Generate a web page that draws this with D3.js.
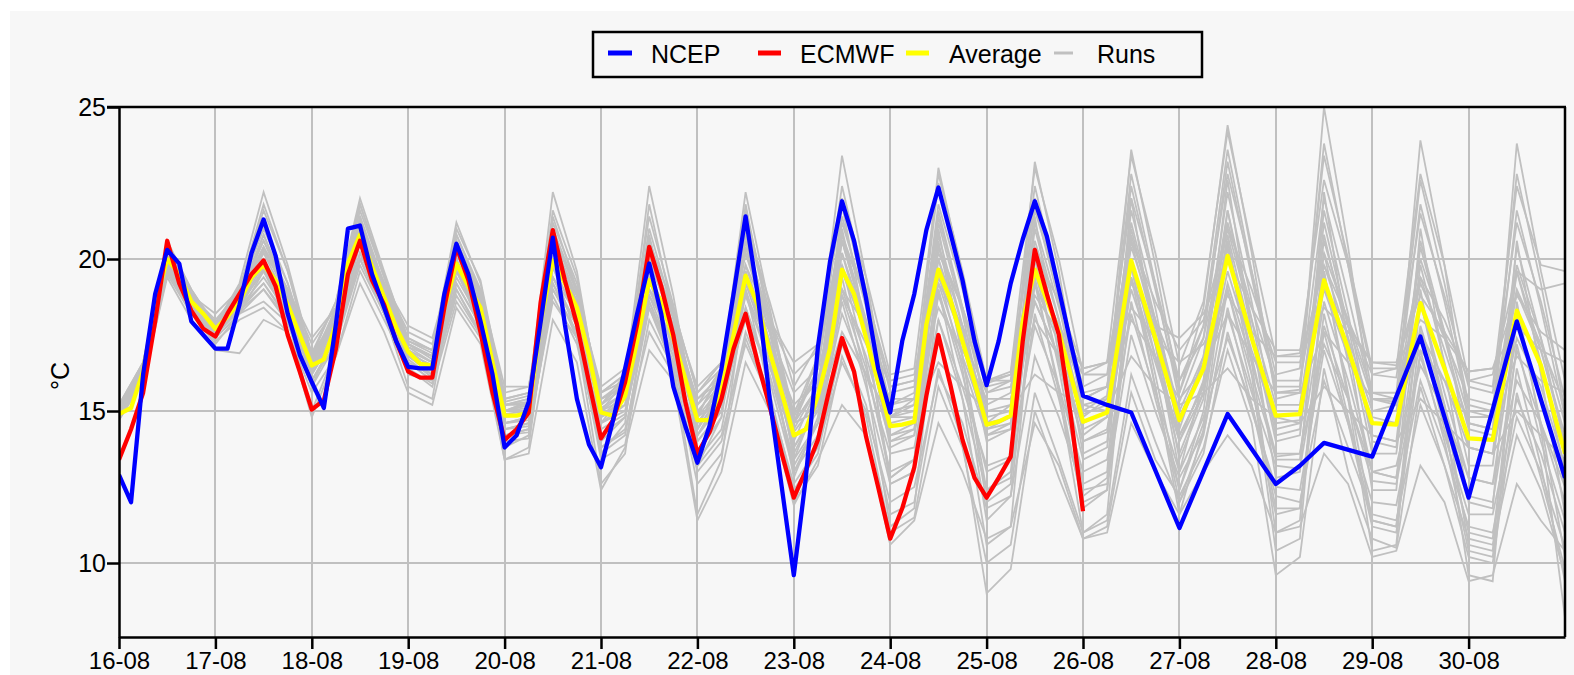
<!DOCTYPE html>
<html><head><meta charset="utf-8">
<script src="https://cdn.jsdelivr.net/npm/d3@7"></script>
<style>
html,body{margin:0;padding:0;background:#fff;}
svg{display:block;}
text{font-family:"Liberation Sans",Arial,sans-serif;fill:#000;}
</style></head><body>
<svg id="chart" width="1574" height="675"></svg>
<script>
// ---- data ----
const dayLabels = ["16-08","17-08","18-08","19-08","20-08","21-08","22-08","23-08","24-08","25-08","26-08","27-08","28-08","29-08","30-08"];
const dayHours = [0,24,48,72,96,120,144,168,192,216,240,264,288,312,336];
const yTicks = [10,15,20,25];
const seriesNames = ["NCEP","ECMWF","Average","Runs"];

const ncepHours = [0,3,6,9,12,15,18,21,24,27,30,33,36,39,42,45,48,51,54,57,60,63,66,69,72,75,78,81,84,87,90,93,96,99,102,105,108,111,114,117,120,123,126,129,132,135,138,141,144,147,150,153,156,159,162,165,168,171,174,177,180,183,186,189,192,195,198,201,204,207,210,213,216,219,222,225,228,231,234,237,240,246,252,264,276,288,294,300,312,324,336,348,360];
const ncepTemp = [12.9,12.0,16.2,18.85,20.3,19.85,17.95,17.5,17.05,17.05,18.5,20.2,21.3,20.1,18.2,16.85,15.95,15.1,17.85,21.0,21.1,19.5,18.4,17.3,16.45,16.4,16.4,18.85,20.5,19.5,17.95,16.2,13.8,14.2,15.3,17.95,20.7,17.85,15.4,13.9,13.15,14.7,16.4,18.2,19.85,18.2,15.8,14.5,13.3,14.5,16.4,18.85,21.4,18.85,15.4,12.5,9.6,12.8,17.1,19.9,21.9,20.6,18.7,16.4,14.95,17.3,18.85,20.95,22.35,20.85,19.3,17.3,15.85,17.3,19.2,20.65,21.9,20.75,19.0,17.2,15.5,15.2,14.95,11.15,14.9,12.6,13.2,13.95,13.5,17.45,12.15,17.95,12.8];

const ecmwfHours = [0,3,6,9,12,15,18,21,24,27,30,33,36,39,42,45,48,51,54,57,60,63,66,69,72,75,78,81,84,87,90,93,96,99,102,105,108,111,114,117,120,123,126,129,132,135,138,141,144,147,150,153,156,159,162,165,168,171,174,177,180,183,186,189,192,195,198,201,204,207,210,213,216,219,222,225,228,231,234,237,240];
const ecmwfTemp = [13.4,14.4,15.6,17.95,20.6,19.2,18.3,17.7,17.45,18.2,18.85,19.5,19.95,19.1,17.5,16.3,15.05,15.35,17.05,19.5,20.6,19.3,18.5,17.3,16.3,16.1,16.1,18.4,20.4,19.3,17.6,15.6,14.05,14.4,14.95,18.6,20.95,19.3,17.85,15.95,14.1,14.7,15.95,17.85,20.4,19.1,17.5,15.3,13.6,14.3,15.4,17.05,18.2,16.6,15.15,13.6,12.15,13.05,14.05,15.8,17.4,16.3,14.15,12.5,10.8,11.8,13.15,15.5,17.5,15.85,14.05,12.8,12.15,12.8,13.5,17.3,20.3,18.85,17.5,14.8,11.7];

const avgHours = [0,3,6,9,12,15,18,21,24,27,30,33,36,39,42,45,48,51,54,57,60,63,66,69,72,75,78,81,84,87,90,93,96,99,102,105,108,111,114,117,120,123,126,129,132,135,138,141,144,147,150,153,156,159,162,165,168,171,174,177,180,183,186,189,192,195,198,201,204,207,210,213,216,219,222,225,228,231,234,237,240,246,252,258,264,270,276,282,288,294,300,306,312,318,324,330,336,342,348,354,360];
const avgTemp = [14.9,15.1,16.3,18.5,20.0,19.5,18.6,18.2,17.7,18.1,18.6,19.4,19.8,19.3,18.5,17.5,16.5,16.7,17.85,19.85,20.8,19.75,18.75,17.75,16.95,16.55,16.5,18.4,19.85,19.1,18.4,16.6,14.85,14.85,14.95,17.95,19.95,19.2,18.4,16.85,14.95,14.85,15.5,17.3,19.3,18.6,17.4,16.05,14.7,14.7,15.7,17.5,19.45,18.5,16.95,15.6,14.2,14.4,15.5,17.05,19.65,18.85,17.4,15.95,14.5,14.55,14.65,17.85,19.65,18.65,17.3,15.95,14.55,14.65,14.85,17.95,19.65,18.65,17.6,16.15,14.65,14.95,19.95,17.4,14.7,16.4,20.1,17.4,14.85,14.9,19.3,17.05,14.6,14.55,18.55,16.4,14.1,14.05,18.3,16.5,13.6];

// ensemble runs, 6-hourly from 16-08 00 to 31-08 00
const runHours = d3.range(0, 361, 6);
const runs = [
[15.1,16.6,20.4,18.9, 17.9,19.0,21.6,19.6, 16.9,18.6,21.8,19.5, 17.4,17.0,21.0,19.3, 15.4,15.6,21.6,19.4, 15.2,16.2,21.4,18.5, 14.8,16.4,21.6,18.2, 14.9,16.8,22.4,19.0, 15.6,15.8,22.5,19.2, 15.9,16.2,22.0,18.9, 15.4,15.8,21.2,18.0, 14.2,15.8,19.0,16.2, 13.5,13.6,17.2,15.4, 13.0,13.2,16.5,15.0, 12.8,12.6,16.0,14.6, 12.5],
[14.8,16.1,19.6,18.3, 17.4,18.2,18.6,17.9, 16.0,17.2,19.8,18.2, 16.6,16.0,18.8,17.5, 14.2,14.4,18.6,17.4, 13.8,14.4,17.6,16.2, 13.2,14.2,17.2,15.4, 12.6,13.8,16.6,15.0, 12.0,12.5,16.2,14.6, 11.8,12.2,16.8,14.8, 12.4,12.6,17.5,15.0, 12.8,14.3,18.2,15.6, 13.2,13.1,17.8,15.4, 12.7,12.6,16.8,14.2, 11.6,11.6,15.4,13.6, 11.0],
[15.0,16.4,20.2,18.7, 17.8,18.8,20.3,18.9, 16.7,18.1,21.3,19.1, 17.2,16.8,20.4,18.7, 15.2,15.4,20.8,19.0, 15.6,16.2,20.6,18.4, 15.6,16.6,21.2,18.6, 15.8,17.2,22.0,19.4, 16.2,16.4,22.8,19.6, 16.0,16.3,23.0,20.0, 16.2,16.6,23.4,20.2, 16.5,18.6,24.2,20.4, 16.8,16.9,22.6,19.8, 16.2,16.1,21.5,18.8, 15.8,15.6,21.2,18.6, 15.4],
[14.9,16.2,19.9,18.5, 17.6,18.5,19.6,18.3, 16.3,17.7,20.5,18.6, 16.8,16.3,19.6,18.0, 14.6,14.8,19.7,18.2, 14.8,15.2,19.0,17.2, 14.6,15.6,19.2,16.9, 14.3,15.4,19.6,17.5, 14.8,15.0,20.0,17.6, 14.4,14.6,19.2,17.2, 14.0,14.3,19.4,16.8, 14.2,15.8,19.6,17.0, 14.6,14.7,19.8,17.4, 15.0,15.0,19.4,17.0, 14.6,14.4,18.9,17.0, 14.2],
[14.8,16.2,19.8,18.4, 17.5,18.3,19.2,18.1, 16.2,17.5,20.2,18.4, 16.7,16.1,19.2,17.8, 14.0,14.1,19.0,17.6, 13.4,13.9,18.0,16.4, 12.6,13.6,17.4,15.4, 12.0,13.2,16.8,14.8, 11.0,11.5,15.8,13.8, 10.0,10.6,15.6,13.4, 11.0,11.4,16.2,14.0, 12.0,13.6,17.6,15.0, 12.5,12.4,17.0,14.6, 12.0,11.9,16.0,13.8, 11.2,11.0,14.8,13.0, 10.5],
[15.0,16.5,20.4,18.8, 17.9,19.1,21.2,19.2, 16.6,18.3,21.6,19.4, 17.1,16.8,20.8,18.9, 15.0,15.3,21.2,19.2, 15.2,16.0,21.0,18.2, 14.9,16.2,21.4,18.0, 14.6,16.4,22.0,18.6, 14.8,15.2,21.6,18.4, 15.2,15.6,22.4,19.0, 15.0,15.5,22.8,19.2, 15.3,17.4,23.2,19.4, 15.6,15.7,22.0,18.8, 15.4,15.3,21.8,18.6, 15.0,14.8,21.6,18.4, 14.8],
[14.8,16.0,19.5,18.2, 17.3,18.0,18.4,17.6, 15.6,16.8,19.6,18.0, 16.4,15.8,18.6,17.4, 14.4,14.5,19.0,17.6, 14.4,14.9,18.4,16.6, 14.0,15.0,18.4,16.2, 13.4,14.6,18.2,16.2, 13.6,13.8,18.0,15.8, 13.2,13.5,17.8,15.8, 13.0,13.4,18.2,15.6, 13.0,14.8,17.4,15.2, 12.2,12.0,16.0,13.8, 11.6,11.4,15.2,13.2, 10.8,10.6,14.2,12.4, 9.6],
[15.2,16.6,20.2,18.8, 18.0,18.9,20.4,19.0, 17.2,18.4,21.0,19.2, 17.6,17.2,20.4,18.8, 15.6,15.8,20.4,18.8, 15.8,16.4,19.8,18.2, 15.8,16.6,20.2,18.0, 16.2,17.0,20.8,18.6, 15.8,16.0,20.4,18.4, 16.0,16.2,20.2,18.6, 16.4,16.6,20.6,18.6, 17.0,18.0,21.0,19.0, 16.6,16.6,19.8,18.0, 16.2,16.4,19.4,18.0, 16.0,16.2,19.6,19.0, 19.2],
[15.0,16.4,20.6,19.0, 17.8,19.2,22.2,19.8, 16.8,18.6,22.0,19.6, 17.3,17.0,21.2,19.2, 15.3,15.5,22.2,19.6, 15.0,16.0,22.4,18.8, 14.4,16.2,22.2,18.4, 14.6,16.8,23.4,19.4, 14.8,15.4,23.0,19.4, 14.6,15.2,23.2,19.6, 14.8,15.4,23.6,19.8, 15.6,18.4,24.4,20.2, 15.4,15.6,25.0,20.4, 15.0,15.2,23.9,19.8, 14.6,14.4,23.8,19.6, 16.0],
[14.7,16.0,19.8,18.2, 17.2,18.2,19.6,18.0, 15.0,17.0,20.6,18.2, 15.8,15.4,19.8,17.6, 13.4,13.8,19.8,17.4, 12.6,13.6,19.4,16.4, 11.6,13.4,19.0,15.6, 12.0,14.0,19.4,16.0, 11.2,11.8,19.0,15.4, 10.6,11.2,19.4,15.6, 11.0,11.6,19.8,15.8, 11.6,14.4,20.4,16.2, 10.4,10.8,19.6,15.4, 10.4,10.6,19.0,14.8, 9.6,9.4,18.6,14.4, 8.2],
[14.9,16.3,20.1,18.6, 17.8,18.7,20.0,18.6, 16.6,18.0,20.9,18.9, 17.1,16.6,20.0,18.4, 15.0,15.1,20.3,18.6, 15.1,15.6,19.6,17.6, 15.0,15.9,19.8,17.3, 14.4,15.8,20.2,17.8, 14.6,14.8,20.4,17.8, 14.8,15.0,20.6,18.0, 14.9,15.2,20.8,18.0, 15.0,16.8,21.0,18.0, 15.2,15.2,20.6,17.8, 15.4,15.4,20.0,17.6, 14.8,14.8,19.8,17.4, 14.6],
[14.9,16.2,19.8,18.5, 17.6,18.4,19.4,18.2, 16.4,17.6,20.2,18.4, 16.8,16.4,19.4,18.0, 15.0,15.0,19.2,17.8, 15.0,15.4,18.4,17.0, 14.8,15.4,18.0,16.4, 14.6,15.0,17.6,16.2, 14.8,14.8,16.6,15.8, 15.0,15.0,16.2,15.6, 15.2,15.0,16.8,15.8, 15.2,15.6,16.4,15.4, 14.8,14.6,15.8,15.0, 14.2,14.0,15.4,14.6, 13.8,13.6,15.0,14.2, 13.4],
[14.8,16.1,19.7,18.3, 17.4,18.2,19.0,17.9, 15.8,17.2,20.0,18.2, 16.4,15.9,19.0,17.5, 14.2,14.3,18.8,17.2, 13.8,14.3,18.4,16.4, 13.0,14.0,17.6,15.6, 12.4,13.6,17.2,15.2, 11.6,12.0,16.4,14.0, 9.0,9.8,15.0,12.8, 10.8,11.2,15.6,13.4, 12.2,13.8,17.0,14.6, 9.6,10.2,16.4,13.0, 10.8,10.5,15.8,13.2, 10.2,10.0,15.6,12.8, 9.8],
[15.1,16.4,20.0,18.7, 17.9,18.8,19.9,18.7, 16.9,18.0,20.7,19.0, 17.4,17.0,19.8,18.6, 15.4,15.6,19.8,18.6, 15.6,16.0,19.0,17.8, 15.4,16.2,19.2,17.6, 15.6,16.4,19.0,17.8, 15.8,16.0,19.2,17.8, 16.0,16.0,18.8,17.6, 16.2,16.2,18.4,17.4, 16.6,17.2,18.8,17.6, 16.8,16.8,18.4,17.6, 16.6,16.5,18.0,17.4, 16.3,16.4,17.8,17.0, 16.6],
[14.8,16.2,20.2,18.5, 17.5,18.6,20.8,18.8, 15.8,17.6,21.4,18.8, 16.2,16.0,20.6,18.2, 13.8,14.2,21.0,18.0, 13.6,14.6,20.8,17.4, 13.2,14.8,21.0,17.0, 12.8,14.8,21.8,17.6, 12.6,13.0,21.0,16.8, 12.0,12.6,21.4,16.8, 12.6,13.0,22.0,17.2, 13.0,16.0,22.6,17.6, 12.8,13.0,22.2,17.2, 12.4,12.4,21.0,16.4, 12.0,11.8,20.6,16.2, 11.6],
[14.9,16.2,19.7,18.4, 17.6,18.3,19.0,18.0, 16.0,17.4,20.0,18.4, 16.6,16.2,19.2,17.8, 14.4,14.6,19.4,17.8, 14.6,15.0,18.6,16.8, 14.2,15.2,18.8,16.6, 13.8,15.0,19.0,16.8, 14.0,14.2,18.8,16.6, 14.2,14.4,18.6,16.8, 14.0,14.4,19.0,16.6, 14.0,15.6,19.2,16.6, 13.6,13.6,18.6,16.0, 13.0,12.8,17.8,15.2, 12.2,12.0,17.0,14.6, 12.0],
[15.0,16.4,20.2,18.8, 17.8,18.9,20.6,19.0, 16.8,18.2,21.2,19.2, 17.3,16.9,20.6,18.8, 15.2,15.4,20.8,18.9, 15.4,16.0,20.2,18.2, 15.2,16.4,20.6,18.0, 14.8,16.4,21.2,18.6, 15.2,15.6,21.8,19.0, 15.6,16.0,21.6,19.0, 15.8,16.2,22.0,19.2, 16.0,17.8,22.8,19.6, 16.2,16.4,23.4,20.0, 16.4,16.4,22.8,19.8, 16.0,15.8,22.4,19.8, 19.6],
[14.7,16.0,19.4,18.0, 17.0,16.9,18.0,17.6, 14.8,16.8,19.2,17.6, 15.6,15.2,18.4,17.2, 13.4,13.6,18.0,16.6, 12.4,13.8,17.0,16.0, 11.4,13.0,16.6,15.0, 11.9,13.4,15.2,14.2, 10.6,11.4,14.6,13.0, 10.8,11.2,14.6,13.2, 10.8,11.0,14.6,13.0, 11.6,13.0,14.2,13.2, 11.0,11.2,13.6,12.6, 10.2,10.4,13.2,12.0, 9.4,9.6,12.6,11.4, 10.4],
[15.0,16.3,19.9,18.6, 17.7,18.6,19.9,18.4, 16.4,17.9,21.0,18.8, 17.0,16.4,19.8,18.2, 14.8,14.9,20.6,18.8, 14.6,15.2,20.0,17.8, 14.2,15.4,20.4,17.6, 13.8,15.2,20.6,17.8, 13.8,14.2,20.8,17.8, 14.0,14.4,21.0,18.0, 13.6,14.0,20.6,17.6, 13.4,15.4,21.6,17.6, 14.0,14.2,20.8,17.4, 13.6,13.6,19.8,16.6, 13.2,13.2,19.6,16.6, 13.0],
[14.9,16.4,20.3,18.7, 17.8,18.8,20.6,18.8, 16.6,18.0,21.0,18.9, 17.0,16.6,20.2,18.4, 14.6,14.8,20.2,18.4, 15.2,15.8,19.0,17.2, 14.4,15.6,19.6,17.0, 13.6,15.2,20.2,17.4, 14.2,14.4,19.2,16.8, 14.6,14.8,18.6,16.8, 14.4,14.8,19.8,17.2, 14.0,16.0,20.8,17.4, 15.0,15.0,19.0,16.8, 14.8,14.6,17.6,16.0, 13.8,13.6,17.4,15.8, 13.2],
[14.8,16.2,19.9,18.4, 17.5,18.4,19.7,18.2, 16.2,17.6,20.6,18.5, 16.8,16.2,19.6,17.9, 14.6,14.7,19.4,17.8, 14.2,14.8,18.8,16.8, 14.0,15.0,19.0,16.6, 13.2,14.6,18.8,16.4, 13.0,13.4,19.0,16.2, 13.0,13.4,19.6,16.6, 13.4,13.8,20.0,16.8, 13.6,15.6,20.6,16.8, 13.4,13.4,20.2,16.6, 13.0,12.8,18.6,15.6, 12.8,12.6,18.0,15.4, 12.6],
[15.2,16.6,20.0,18.8, 18.2,19.0,20.2,19.0, 17.4,18.4,20.8,19.2, 17.8,17.4,20.2,19.0, 15.8,15.8,20.0,18.8, 15.6,16.2,20.0,18.4, 15.6,16.4,19.8,18.0, 16.6,17.2,20.6,18.8, 16.0,16.2,20.2,18.4, 15.8,16.0,19.6,17.8, 16.4,16.6,19.2,17.8, 17.4,18.2,20.0,18.4, 17.0,17.0,19.0,17.8, 16.6,16.6,18.8,17.6, 16.3,16.4,18.8,17.6, 17.0],
[15.0,16.5,20.3,18.8, 17.9,18.9,21.0,19.2, 16.7,18.2,21.4,19.2, 17.2,16.8,20.6,18.8, 15.0,15.2,21.0,19.0, 14.8,15.6,20.6,18.0, 14.6,15.8,20.8,17.8, 14.0,15.8,21.4,18.4, 14.2,14.6,21.2,18.2, 14.4,14.8,21.8,18.6, 14.2,14.8,21.6,18.4, 14.4,16.8,22.2,18.6, 14.4,14.6,21.6,18.2, 14.2,14.0,20.6,17.6, 13.8,13.6,20.4,17.4, 13.8],
[14.8,16.1,19.6,18.3, 17.5,18.4,19.2,18.0, 16.0,17.4,20.0,18.2, 16.6,16.0,19.0,17.6, 14.2,14.4,19.2,17.4, 13.6,14.2,18.6,16.6, 13.4,14.4,18.4,16.0, 13.0,14.2,18.6,15.8, 12.6,13.0,18.0,15.4, 12.4,12.8,18.2,15.4, 12.0,12.4,18.6,15.4, 12.4,14.6,19.0,15.8, 11.8,11.8,18.2,14.8, 11.4,11.2,17.6,14.4, 11.0,10.8,17.2,14.0, 11.4],
[15.0,16.3,20.0,18.6, 17.7,18.6,20.2,18.6, 16.6,17.9,20.8,18.8, 17.0,16.6,19.9,18.4, 15.2,15.3,20.0,18.4, 15.4,15.8,19.4,17.6, 15.2,16.0,19.4,17.2, 15.0,16.0,19.8,17.6, 15.2,15.4,19.4,17.4, 15.6,15.8,19.6,17.8, 15.6,15.8,20.4,18.0, 16.0,17.4,21.2,18.4, 16.0,16.0,20.2,18.0, 15.6,15.4,19.2,17.4, 15.4,15.2,19.0,17.2, 15.2],
[15.0,16.5,20.5,19.0, 17.8,19.0,21.8,19.6, 16.6,18.4,21.8,19.4, 17.2,16.8,20.8,19.0, 15.0,15.3,21.4,19.0, 14.6,15.6,21.8,18.2, 14.2,15.6,21.8,17.8, 13.4,15.4,21.0,17.4, 12.8,13.4,20.6,16.8, 12.4,13.0,20.0,16.4, 12.2,12.8,19.4,15.8, 12.0,14.2,18.4,15.2, 11.6,11.8,17.6,14.6, 11.2,11.0,17.0,14.0, 10.4,10.2,16.4,13.2, 9.4],
[14.9,16.3,20.1,18.6, 17.7,18.7,20.4,18.7, 16.5,17.9,21.2,18.9, 16.9,16.5,20.2,18.4, 14.9,15.0,20.6,18.6, 15.0,15.6,20.0,17.8, 14.8,15.8,20.2,17.6, 14.6,15.8,20.8,18.0, 15.0,15.2,21.4,18.4, 15.0,15.2,21.2,18.4, 15.4,15.8,22.4,19.0, 15.6,17.8,23.6,19.6, 15.8,15.8,23.8,19.8, 15.6,15.6,22.6,19.2, 15.2,15.0,22.8,19.2, 15.0],
[14.8,16.2,19.9,18.5, 17.6,18.5,19.8,18.4, 16.4,17.8,20.8,18.6, 16.8,16.4,19.8,18.0, 14.4,14.6,19.8,18.0, 14.0,14.8,19.4,17.0, 13.6,14.8,19.6,16.6, 13.0,14.6,19.8,16.6, 12.8,13.4,19.6,16.4, 11.4,12.2,19.2,15.8, 11.8,12.4,19.8,16.2, 12.4,15.0,20.6,16.6, 11.0,11.4,19.6,15.6, 11.4,11.2,18.6,15.2, 10.6,10.4,18.2,14.6, 10.2],
[15.1,16.4,19.9,18.6, 17.8,18.6,19.6,18.5, 16.8,18.0,20.6,18.8, 17.2,16.8,19.6,18.4, 15.2,15.2,19.4,18.2, 15.4,15.8,18.8,17.4, 15.4,16.0,18.8,17.2, 15.2,16.0,18.8,17.2, 15.4,15.4,18.4,17.0, 15.4,15.4,18.0,16.8, 15.2,15.4,18.0,16.8, 15.4,16.4,18.2,16.8, 15.6,15.6,17.6,16.6, 15.4,15.2,17.0,16.0, 14.8,14.8,16.8,16.0, 15.6],
[14.9,16.4,20.2,18.7, 17.8,18.8,20.8,18.9, 16.8,18.1,21.0,19.0, 17.2,16.7,20.4,18.6, 15.0,15.2,20.4,18.6, 14.8,15.4,20.2,17.8, 14.4,15.6,20.6,17.6, 14.6,15.8,20.6,17.8, 14.0,14.4,20.0,17.2, 14.2,14.6,20.4,17.4, 14.6,15.0,21.0,17.8, 14.8,16.6,21.6,18.0, 14.2,14.4,21.2,17.8, 14.0,13.8,20.4,17.4, 14.4,14.2,19.6,17.0, 14.0]
];

// ---- layout ----
const W = 1574, H = 675;
const plot = {left:119, right:1565, top:107, bottom:637};
const colors = {NCEP:"#0000ff", ECMWF:"#ff0000", Average:"#ffff00", Runs:"#c0c0c0"};

const svg = d3.select("#chart");
svg.append("rect").attr("x",10).attr("y",11).attr("width",W-10).attr("height",H-11).attr("fill","#f7f7f7");

const x = d3.scaleLinear().domain([0,360]).range([plot.left, plot.right]);
const y = d3.scaleLinear().domain([7.566,25]).range([plot.bottom, plot.top]);

// grid
const grid = svg.append("g").attr("stroke","#c0c0c0").attr("stroke-width",2).attr("shape-rendering","crispEdges");
grid.selectAll("line.v").data(dayHours.slice(1)).join("line").attr("class","v")
  .attr("x1",d=>Math.round(x(d))).attr("x2",d=>Math.round(x(d))).attr("y1",plot.top).attr("y2",plot.bottom);
grid.selectAll("line.h").data(yTicks.filter(t=>t<25)).join("line").attr("class","h")
  .attr("x1",plot.left).attr("x2",plot.right).attr("y1",d=>Math.round(y(d))).attr("y2",d=>Math.round(y(d)));

// clip
svg.append("clipPath").attr("id","clip").append("rect")
  .attr("x",plot.left).attr("y",plot.top).attr("width",plot.right-plot.left).attr("height",plot.bottom-plot.top);
const lines = svg.append("g").attr("clip-path","url(#clip)");
const line = d3.line().x(d=>x(d[0])).y(d=>y(d[1]));

lines.selectAll("path.run").data(runs).join("path").attr("class","run")
  .attr("d",r=>line(r.map((v,i)=>[runHours[i],v])))
  .attr("fill","none").attr("stroke",colors.Runs).attr("stroke-width",1.8);

const main = [
  {name:"Average", h:avgHours, v:avgTemp},
  {name:"ECMWF", h:ecmwfHours, v:ecmwfTemp},
  {name:"NCEP", h:ncepHours, v:ncepTemp}
];
lines.selectAll("path.main").data(main).join("path").attr("class","main")
  .attr("d",s=>line(s.h.map((hh,i)=>[hh,s.v[i]])))
  .attr("fill","none").attr("stroke",s=>colors[s.name]).attr("stroke-width",4.3)
  .attr("stroke-linejoin","round");

// axes
const yAxis = d3.axisLeft(y).tickValues(yTicks).tickSize(12).tickSizeOuter(0).tickPadding(1).tickFormat(d3.format("d"));
const gy = svg.append("g").attr("transform",`translate(${plot.left},0)`).call(yAxis);
const xAxis = d3.axisBottom(x).tickValues(dayHours).tickSize(12).tickSizeOuter(0).tickPadding(3).tickFormat((d,i)=>dayLabels[i]);
const gx = svg.append("g").attr("transform",`translate(0,${plot.bottom})`).call(xAxis);
[gx,gy].forEach(g=>{
  g.select(".domain").attr("stroke","#000").attr("stroke-width",2.5);
  g.selectAll(".tick line").attr("stroke","#000").attr("stroke-width",2.5);
  g.selectAll("text").attr("font-size",24).attr("font-family","Liberation Sans, Arial, sans-serif").attr("fill","#000");
});
gy.selectAll("text").attr("font-size",25);
// top and right border
svg.append("line").attr("x1",plot.left-12).attr("x2",plot.right+1).attr("y1",plot.top).attr("y2",plot.top).attr("stroke","#000").attr("stroke-width",2.5);
svg.append("line").attr("x1",plot.right).attr("x2",plot.right).attr("y1",plot.top).attr("y2",plot.bottom).attr("stroke","#000").attr("stroke-width",2.5);

// y title
svg.append("text").attr("transform","translate(69,376) rotate(-90)").attr("text-anchor","middle")
  .attr("font-size",25).text("°C");

// legend
const lg = svg.append("g");
lg.append("rect").attr("x",593).attr("y",32).attr("width",609).attr("height",45)
  .attr("fill","#f7f7f7").attr("stroke","#000").attr("stroke-width",2.5);
const legendItems = [
  {name:"NCEP", sx:608, ex:632, tx:651, w:5},
  {name:"ECMWF", sx:758, ex:781, tx:800, w:5},
  {name:"Average", sx:906, ex:929, tx:949, w:5},
  {name:"Runs", sx:1054, ex:1073, tx:1097, w:3}
];
legendItems.forEach(it=>{
  lg.append("line").attr("x1",it.sx).attr("x2",it.ex).attr("y1",53).attr("y2",53)
    .attr("stroke",colors[it.name]).attr("stroke-width",it.w);
  lg.append("text").attr("x",it.tx).attr("y",63).attr("font-size",25).text(it.name);
});
</script>
</body></html>
